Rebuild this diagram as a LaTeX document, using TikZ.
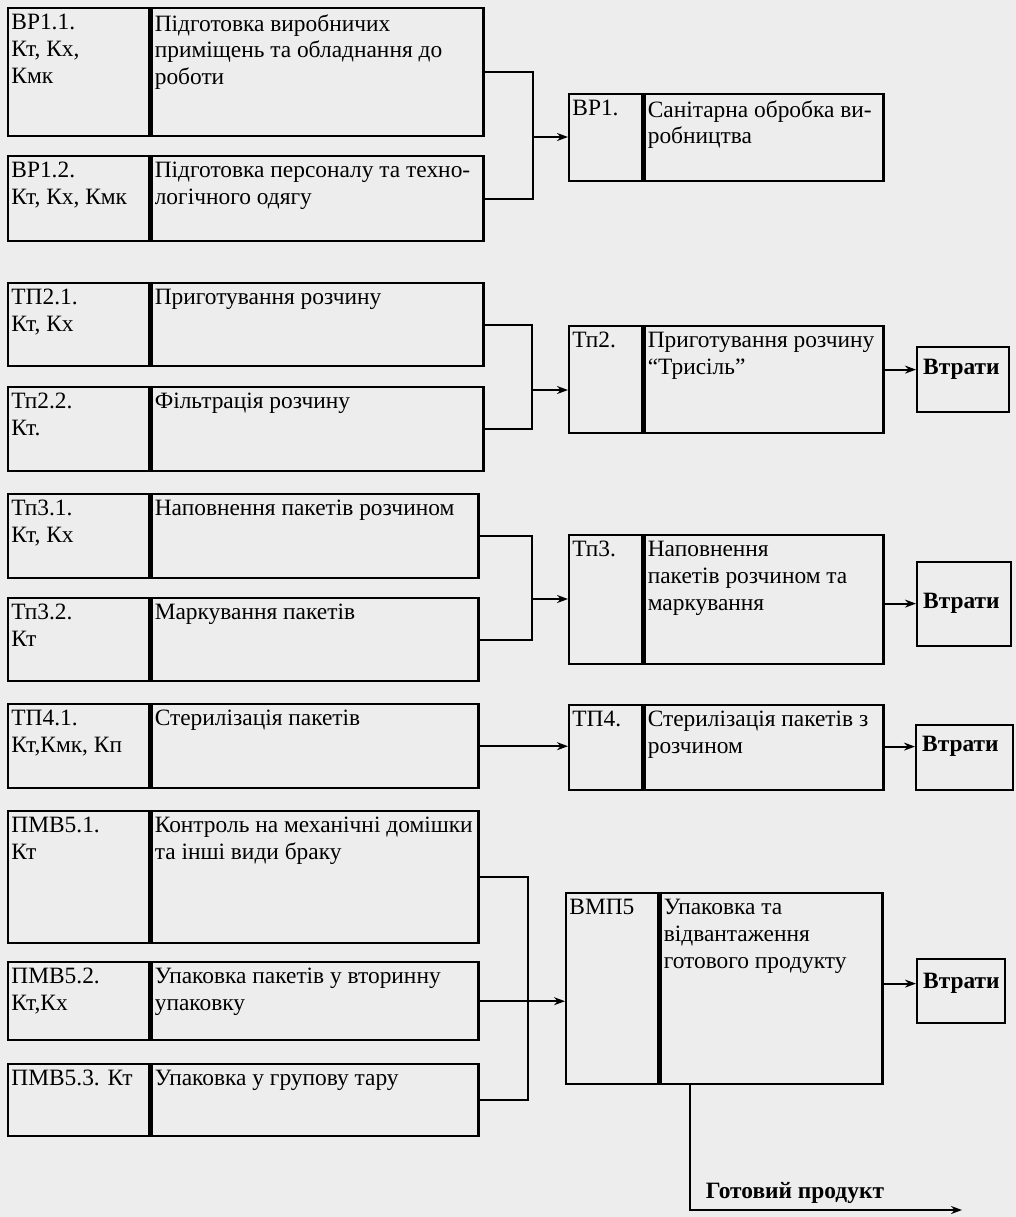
\documentclass[tikz,border=0pt]{standalone}
\usepackage{fontspec}
\setmainfont{Liberation Serif}
\usetikzlibrary{arrows.meta}

\newcommand{\diagfont}{\fontsize{11.7}{13.4}\selectfont}

\begin{document}
\begin{tikzpicture}[x=0.5pt, y=-0.5pt, font=\diagfont,
  cellbox/.style={draw, line width=1.2pt, anchor=north west, inner sep=0pt},
  celltext/.style={anchor=north west, align=left, inner xsep=2pt, inner ysep=3.5pt},
  lossbox/.style={draw, line width=1.2pt, anchor=north west, inner xsep=3pt, inner ysep=0pt,
    align=left, font=\diagfont\bfseries},
  link/.style={line width=1pt},
  flow/.style={line width=1pt, -{Stealth[length=5.5pt,width=4pt]}}]
\path[use as bounding box, fill=black!7] (0,0) rectangle (1016,1217);

% left column
\node[cellbox, minimum width=70.5pt, minimum height=64pt, label={[celltext]north west:ВР1.1.\\Кт, Кх,\\Кмк}] (vr11a) at (7,7) {};
\node[cellbox, minimum width=166pt, minimum height=64pt, label={[celltext]north west:Підготовка виробничих\\приміщень та обладнання до\\роботи}] (vr11b) at (vr11a.north east) {};
\node[cellbox, minimum width=70.5pt, minimum height=42.5pt, label={[celltext]north west:ВР1.2.\\Кт, Кх, Кмк}] (vr12a) at (7,155) {};
\node[cellbox, minimum width=166pt, minimum height=42.5pt, label={[celltext]north west:Підготовка персоналу та техно-\\логічного одягу}] (vr12b) at (vr12a.north east) {};

\node[cellbox, minimum width=70.5pt, minimum height=41.5pt, label={[celltext]north west:ТП2.1.\\Кт, Кх}] (tp21a) at (7,282) {};
\node[cellbox, minimum width=166pt, minimum height=41.5pt, label={[celltext]north west:Приготування розчину}] (tp21b) at (tp21a.north east) {};
\node[cellbox, minimum width=70.5pt, minimum height=42pt, label={[celltext]north west:Тп2.2.\\Кт.}] (tp22a) at (7,386) {};
\node[cellbox, minimum width=166pt, minimum height=42pt, label={[celltext]north west:Фільтрація розчину}] (tp22b) at (tp22a.north east) {};

\node[cellbox, minimum width=70.5pt, minimum height=42pt, label={[celltext]north west:Тп3.1.\\Кт, Кх}] (tp31a) at (7,493) {};
\node[cellbox, minimum width=163.5pt, minimum height=42pt, label={[celltext]north west:Наповнення пакетів розчином}] (tp31b) at (tp31a.north east) {};
\node[cellbox, minimum width=70.5pt, minimum height=41.5pt, label={[celltext]north west:Тп3.2.\\Кт}] (tp32a) at (7,597) {};
\node[cellbox, minimum width=163.5pt, minimum height=41.5pt, label={[celltext]north west:Маркування пакетів}] (tp32b) at (tp32a.north east) {};

\node[cellbox, minimum width=70.5pt, minimum height=42pt, label={[celltext]north west:ТП4.1.\\Кт,Кмк, Кп}] (tp41a) at (7,703) {};
\node[cellbox, minimum width=163.5pt, minimum height=42pt, label={[celltext]north west:Стерилізація пакетів}] (tp41b) at (tp41a.north east) {};

\node[cellbox, minimum width=70.5pt, minimum height=66pt, label={[celltext]north west:ПМВ5.1.\\Кт}] (pmv51a) at (7,810) {};
\node[cellbox, minimum width=163.5pt, minimum height=66pt, label={[celltext]north west:Контроль на механічні домішки\\та інші види браку}] (pmv51b) at (pmv51a.north east) {};
\node[cellbox, minimum width=70.5pt, minimum height=39pt, label={[celltext]north west:ПМВ5.2.\\Кт,Кх}] (pmv52a) at (7,961) {};
\node[cellbox, minimum width=163.5pt, minimum height=39pt, label={[celltext]north west:Упаковка пакетів у вторинну\\упаковку}] (pmv52b) at (pmv52a.north east) {};
\node[cellbox, minimum width=70.5pt, minimum height=36pt, label={[celltext]north west:ПМВ5.3. Кт}] (pmv53a) at (7,1063) {};
\node[cellbox, minimum width=163.5pt, minimum height=36pt, label={[celltext]north west:Упаковка у групову тару}] (pmv53b) at (pmv53a.north east) {};

% right column
\node[cellbox, minimum width=36.5pt, minimum height=43.5pt, label={[celltext]north west:ВР1.}] (vr1a) at (568,93) {};
\node[cellbox, minimum width=119.5pt, minimum height=43.5pt, label={[celltext]north west:Санітарна обробка ви-\\робництва}] (vr1b) at (vr1a.north east) {};
\node[cellbox, minimum width=36.5pt, minimum height=53.5pt, label={[celltext]north west:Тп2.}] (tp2a) at (568,325) {};
\node[cellbox, minimum width=119.5pt, minimum height=53.5pt, label={[celltext]north west:Приготування розчину\\“Трисіль”}] (tp2b) at (tp2a.north east) {};
\node[cellbox, minimum width=36.5pt, minimum height=64.5pt, label={[celltext]north west:Тп3.}] (tp3a) at (568,534) {};
\node[cellbox, minimum width=119.5pt, minimum height=64.5pt, label={[celltext]north west:Наповнення\\пакетів розчином та\\маркування}] (tp3b) at (tp3a.north east) {};
\node[cellbox, minimum width=36.5pt, minimum height=42.5pt, label={[celltext]north west:ТП4.}] (tp4a) at (568,704) {};
\node[cellbox, minimum width=119.5pt, minimum height=42.5pt, label={[celltext]north west:Стерилізація пакетів з\\розчином}] (tp4b) at (tp4a.north east) {};
\node[cellbox, minimum width=46pt, minimum height=95.5pt, label={[celltext]north west:ВМП5}] (vmp5a) at (565,892) {};
\node[cellbox, minimum width=111pt, minimum height=95.5pt, label={[celltext]north west:Упаковка та\\відвантаження\\готового продукту}] (vmp5b) at (vmp5a.north east) {};

% losses
\node[lossbox, text width=40pt, text height=13.5pt, text depth=19pt] (loss2) at (916,346) {Втрати};
\node[lossbox, text width=41pt, text height=23pt, text depth=19pt] (loss3) at (916,561) {Втрати};
\node[lossbox, text width=42.5pt, text height=13pt, text depth=19.5pt] (loss4) at (915,724) {Втрати};
\node[lossbox, text width=38pt, text height=14.5pt, text depth=17.5pt] (loss5) at (916,958) {Втрати};

% brackets
\coordinate (j1) at (533,137);
\draw[link] (vr11b.east) -| (j1) |- (vr12b.east);
\draw[flow] (j1) -- (j1 -| vr1a.west);
\coordinate (j2) at (532,390);
\draw[link] (tp21b.east) -| (j2) |- (tp22b.east);
\draw[flow] (j2) -- (j2 -| tp2a.west);
\coordinate (j3) at (532,599);
\draw[link] (tp31b.east) -| (j3) |- (tp32b.east);
\draw[flow] (j3) -- (j3 -| tp3a.west);
\draw[flow] (tp41b.east) -- (tp41b.east -| tp4a.west);
\coordinate (j5) at (528,1001);
\draw[link] (pmv51b.east) -| (j5) |- (pmv53b.east);
\draw[flow] (pmv52b.east) -- (pmv52b.east -| vmp5a.west);

\draw[flow] (tp2b.east |- loss2.mid west) -- (loss2.mid west);
\draw[flow] (tp3b.east |- loss3.mid west) -- (loss3.mid west);
\draw[flow] (tp4b.east |- loss4.mid west) -- (loss4.mid west);
\draw[flow] (vmp5b.east |- loss5.mid west) -- (loss5.mid west);

% output
\coordinate (bend) at (690,1210);
\coordinate (gpend) at (962,1210);
\draw[flow] (bend |- vmp5b.south) -- (bend) -- (gpend);
\node[font=\diagfont\bfseries] (gp) at (795,1193) {Готовий продукт};
\end{tikzpicture}
\end{document}
